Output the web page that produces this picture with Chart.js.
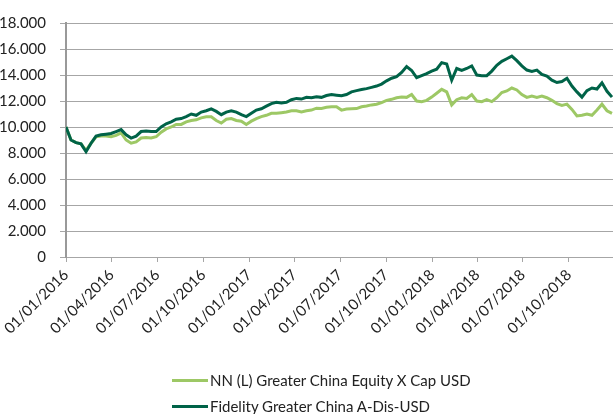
<!DOCTYPE html>
<html>
<head>
<meta charset="utf-8">
<script src="https://cdn.jsdelivr.net/npm/chart.js@4.4.1/dist/chart.umd.min.js"></script>
<style>
  html, body { margin: 0; padding: 0; background: #fff; }
  #wrap { position: relative; width: 613px; height: 414px; overflow: hidden; }
  #legend { position: absolute; left: 172px; top: 367px; font: 15px Lato, sans-serif; color: #222; }
  .item { display: flex; align-items: center; height: 26px; white-space: nowrap; }
  .swatch { width: 36px; height: 3px; margin-right: 2px; }
</style>
</head>
<body>
<div id="wrap">
  <canvas id="chart" width="613" height="414"></canvas>
  <div id="legend"></div>
</div>
<script>
// --- data (one sample every 10 days from 01/01/2016) ---
const startDate = '2016-01-01';
const stepDays = 10;

const seriesNames = [
    'NN (L) Greater China Equity X Cap USD',
    'Fidelity Greater China A-Dis-USD'
];

const nnValues = [
    10000, 9000, 8800, 8700, 8200, 8750, 9250, 9300, 9300, 9250,
    9350, 9550, 9000, 8750, 8850, 9150, 9200, 9150, 9250, 9600,
    9850, 10000, 10200, 10200, 10400, 10500, 10550, 10700, 10780, 10780,
    10500, 10300, 10600, 10650, 10500, 10450, 10200, 10450, 10650, 10800,
    10900, 11050, 11050, 11100, 11150, 11250, 11250, 11150, 11250, 11300,
    11450, 11420, 11520, 11550, 11550, 11300, 11380, 11400, 11420, 11560,
    11620, 11700, 11750, 11880, 12050, 12130, 12250, 12300, 12280, 12500,
    12000, 11950, 12050, 12300, 12600, 12900, 12700, 11700, 12100, 12250,
    12200, 12500, 12000, 11950, 12100, 11950, 12250, 12650, 12770, 13000,
    12850, 12500, 12280, 12380, 12280, 12380, 12250, 12050, 11800, 11660,
    11760, 11350, 10850, 10900, 11000, 10900, 11300, 11750, 11250, 11050
];

const fidelityValues = [
    10000, 9000, 8800, 8700, 8100, 8750, 9300, 9400, 9450, 9500,
    9650, 9800, 9400, 9150, 9300, 9650, 9700, 9650, 9650, 10000,
    10250, 10400, 10600, 10650, 10800, 11000, 10900, 11150, 11250, 11400,
    11200, 10950, 11150, 11250, 11150, 10950, 10800, 11050, 11300, 11400,
    11600, 11800, 11900, 11850, 11900, 12100, 12200, 12150, 12280, 12250,
    12330, 12280, 12420, 12500, 12450, 12400, 12500, 12700, 12800, 12880,
    12950, 13050, 13150, 13300, 13550, 13750, 13870, 14200, 14650, 14350,
    13800, 13950, 14100, 14300, 14450, 14950, 14850, 13600, 14500, 14350,
    14500, 14700, 14000, 13950, 13950, 14300, 14750, 15050, 15250, 15450,
    15100, 14700, 14380, 14280, 14380, 14050, 13920, 13600, 13420, 13500,
    13750, 13150, 12700, 12300, 12800, 13000, 12920, 13400, 12750, 12300
];

const quarterLabels = [
    '01/01/2016', '01/04/2016', '01/07/2016', '01/10/2016',
    '01/01/2017', '01/04/2017', '01/07/2017', '01/10/2017',
    '01/01/2018', '01/04/2018', '01/07/2018', '01/10/2018'
];

const yTicks = [0, 2000, 4000, 6000, 8000, 10000, 12000, 14000, 16000, 18000];

const colors = ['#9dc865', '#006348'];

// --- helpers ---
function dayOffset(label) {
    const p = label.split('/');
    const t = Date.UTC(+p[2], +p[1] - 1, +p[0]);
    const s = startDate.split('-');
    return Math.round((t - Date.UTC(+s[0], +s[1] - 1, +s[2])) / 86400000);
}
const quarterDays = quarterLabels.map(dayOffset);

function toPoints(values) {
    return values.map((v, i) => ({ x: i * stepDays, y: v }));
}

function fmt(v) {
    return String(v).replace(/\B(?=(\d{3})+(?!\d))/g, '.');
}

const lastDay = (nnValues.length - 1) * stepDays + 2;
const gridColor = '#a6a6a6';
const font = { family: 'Lato, sans-serif', size: 15 };

// dark line listed first so it is drawn on top
const chart = new Chart(document.getElementById('chart'), {
    type: 'line',
    data: {
        datasets: [
            {
                label: seriesNames[1],
                data: toPoints(fidelityValues),
                borderColor: colors[1],
                borderWidth: 3,
                pointRadius: 0,
                tension: 0
            },
            {
                label: seriesNames[0],
                data: toPoints(nnValues),
                borderColor: colors[0],
                borderWidth: 3,
                pointRadius: 0,
                tension: 0
            }
        ]
    },
    options: {
        responsive: false,
        animation: false,
        layout: { padding: { top: 17, right: 0, bottom: 77, left: 0 } },
        plugins: {
            legend: { display: false },
            tooltip: { enabled: false }
        },
        scales: {
            x: {
                type: 'linear',
                min: 0,
                max: lastDay,
                afterBuildTicks: function (scale) {
                    scale.ticks = quarterDays.map(d => ({ value: d }));
                },
                afterFit: function (scale) { scale.height = 80; },
                grid: {
                    drawOnChartArea: false,
                    drawTicks: true,
                    tickLength: 5,
                    color: gridColor
                },
                border: { color: gridColor, width: 1 },
                ticks: {
                    autoSkip: false,
                    minRotation: 45,
                    maxRotation: 45,
                    padding: 4,
                    color: '#222',
                    font: font,
                    callback: function (value) {
                        const i = quarterDays.indexOf(value);
                        return i >= 0 ? quarterLabels[i] : '';
                    }
                }
            },
            y: {
                min: 0,
                max: 18000,
                afterBuildTicks: function (scale) {
                    scale.ticks = yTicks.map(v => ({ value: v }));
                },
                afterFit: function (scale) { scale.width = 66; },
                grid: {
                    color: gridColor,
                    lineWidth: 1,
                    tickLength: 6
                },
                border: { color: '#999', width: 2 },
                ticks: {
                    padding: 14,
                    color: '#222',
                    font: font,
                    callback: v => fmt(v)
                }
            }
        }
    }
});

// --- legend (stacked, NN first) ---
const legend = document.getElementById('legend');
seriesNames.forEach((name, i) => {
    const row = document.createElement('div');
    row.className = 'item';
    const sw = document.createElement('span');
    sw.className = 'swatch';
    sw.style.background = colors[i];
    const txt = document.createElement('span');
    txt.textContent = name;
    row.appendChild(sw);
    row.appendChild(txt);
    legend.appendChild(row);
});
</script>
</body>
</html>
